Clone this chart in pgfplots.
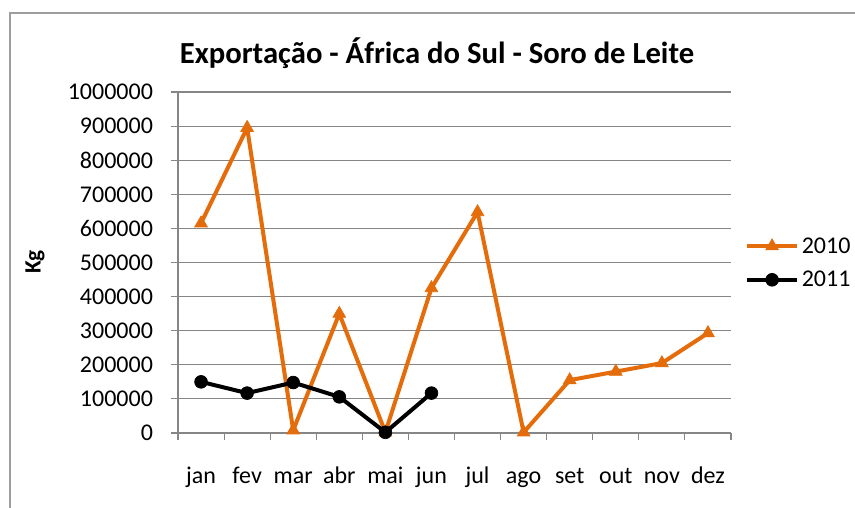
\documentclass[border=0pt]{standalone}
\usepackage{fontspec}
\setmainfont{Carlito}
\usepackage{pgfplots}
\pgfplotsset{compat=1.18}
\definecolor{orng}{RGB}{228,108,10}
\definecolor{gridg}{RGB}{134,134,134}
\begin{document}
\begin{tikzpicture}[x=1pt,y=1pt]
\useasboundingbox (0,0) rectangle (641.25,380.25);
\fill[white] (0,0) rectangle (641.25,380.25);
\draw[gridg!80, line width=1.5pt] (7.5,-10) -- (7.5,370.5) -- (660,370.5);
\node[font=\fontsize{23}{27}\selectfont\bfseries] at (327.75,340.5) {Exportação - África do Sul - Soro de Leite};
\node[rotate=90,font=\fontsize{17.5}{20}\selectfont\bfseries] at (26.25,183.75) {Kg};
\begin{axis}[
  at={(133.5pt,55.5pt)}, anchor=south west,
  scale only axis, width=414.75pt, height=255.75pt,
  xmin=-0.5, xmax=11.5, ymin=0, ymax=1000000,
  axis x line*=bottom, axis y line*=left,
  axis line style={gridg, line width=0.8pt},
  xtick={0,...,11},
  xticklabels={jan,fev,mar,abr,mai,jun,jul,ago,set,out,nov,dez},
  minor xtick={-0.5,0.5,...,11.5},
  major x tick style={draw=none},
  minor x tick style={gridg, line width=0.8pt},
  minor tick length=5.25pt,
  ytick={0,100000,...,1000000},
  y tick style={gridg, line width=0.8pt},
  major tick length=5.25pt,
  tick align=outside,
  ymajorgrids, grid style={gridg, line width=0.8pt},
  scaled y ticks=false,
  /pgf/number format/.cd, fixed, 1000 sep={}, assume math mode=true,
  /pgfplots/.cd,
  tick label style={font=\fontsize{18}{20}\selectfont, text=black},
  yticklabel style={xshift=-10pt},
  xticklabel style={anchor=north, text height=13pt, text depth=4pt, yshift=-16pt},
  legend style={at={(1.025,0.4985)}, anchor=west, draw=none, fill=none,
    font=\fontsize{18}{20}\selectfont, row sep=8pt, inner sep=0pt},
  legend cell align=left,
  legend image code/.code={\draw[#1, mark repeat=2, mark phase=2] plot coordinates {(0pt,0pt) (18.75pt,0pt) (37.5pt,0pt)};},
]
\addplot[orng, line width=3pt, mark=triangle*, mark size=5.5pt, mark options={solid, line width=0.5pt, fill=orng}]
 coordinates {(0,615000) (1,895000) (2,8000) (3,350000) (4,2000) (5,425000) (6,648000) (7,2000) (8,155000) (9,180000) (10,205000) (11,293000)};
\addlegendentry{2010}
\addplot[black, line width=3pt, mark=*, mark size=4.8pt, mark options={solid, line width=0.5pt, fill=black}]
 coordinates {(0,150000) (1,117000) (2,148000) (3,106000) (4,2000) (5,117000)};
\addlegendentry{2011}
\end{axis}
\end{tikzpicture}
\end{document}
